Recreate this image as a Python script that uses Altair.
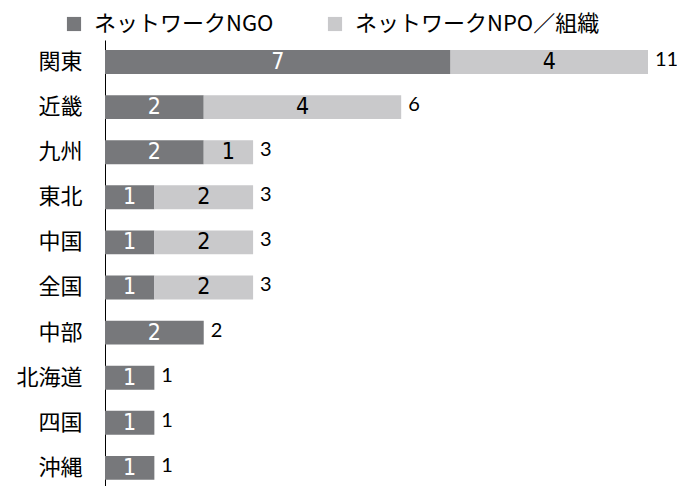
import altair as alt
import pandas as pd

regions = ["関東", "近畿", "九州", "東北", "中国", "全国", "中部", "北海道", "四国", "沖縄"]
ngo = [7, 2, 2, 1, 1, 1, 2, 1, 1, 1]
npo = [4, 4, 1, 2, 2, 2, 0, 0, 0, 0]
series = ["ネットワークNGO", "ネットワークNPO／組織"]
colors = ["#77787b", "#c9c9cb"]

JP = "Noto Sans CJK JP"
NUMF = "DejaVu Sans Condensed, Liberation Sans Narrow, sans-serif"
TOTF = "Lato, Liberation Sans, sans-serif"

rows = []
for r, a, b in zip(regions, ngo, npo):
    rows.append({"region": r, "series": series[0], "value": a, "order": 0})
    rows.append({"region": r, "series": series[1], "value": b, "order": 1})
df = pd.DataFrame(rows)
tot = pd.DataFrame({"region": regions, "total": [a + b for a, b in zip(ngo, npo)]})

yscale = alt.Scale(paddingInner=0.47, paddingOuter=0.18, align=0.62)
yaxis = alt.Axis(labelFont=JP, labelFontSize=22, labelColor="#000000", labelPadding=23,
                 ticks=False, domainColor="#000000", domainWidth=1, title=None)
y = alt.Y("region:N", sort=regions, scale=yscale, axis=yaxis)
xs = alt.Scale(domain=[0, 11], nice=False, zero=True)

base = alt.Chart(df).transform_stack(
    stack="value", groupby=["region"], as_=["x0", "x1"],
    sort=[alt.SortField("order", order="ascending")]
).transform_calculate(mid="(datum.x0 + datum.x1) / 2")

bars = base.mark_bar().encode(
    x=alt.X("x0:Q", scale=xs, axis=None),
    x2="x1:Q",
    y=y,
    color=alt.Color("series:N", scale=alt.Scale(domain=series, range=colors),
                    legend=alt.Legend(orient="none", legendX=-42, legendY=-27,
                                      direction="horizontal", title=None,
                                      symbolType="square", symbolSize=200,
                                      symbolStrokeWidth=0, labelFont=JP,
                                      labelFontSize=22, labelColor="#000000",
                                      labelOffset=9, columnPadding=50,
                                      labelLimit=0, padding=0)),
)

t_dark = base.transform_filter("datum.value > 0 && datum.order == 0").mark_text(
    font=NUMF, fontSize=23, color="#ffffff", baseline="middle"
).encode(x=alt.X("mid:Q", scale=xs), y=y, text="value:Q")

t_light = base.transform_filter("datum.value > 0 && datum.order == 1").mark_text(
    font=NUMF, fontSize=23, color="#000000", baseline="middle"
).encode(x=alt.X("mid:Q", scale=xs), y=y, text="value:Q")

totals = alt.Chart(tot).mark_text(
    align="left", baseline="middle", dx=7, dy=-2, font=TOTF, fontSize=20, color="#000000"
).encode(x=alt.X("total:Q", scale=xs), y=y, text="total:Q")

chart = alt.layer(bars, t_dark, t_light, totals).properties(
    width=543, height=446,
    autosize=alt.AutoSizeParams(type="none"),
    padding={"left": 97, "top": 32, "right": 29, "bottom": 0},
).configure_view(stroke=None)

chart.save("out.html", embed_options={"renderer": "svg", "actions": False})
